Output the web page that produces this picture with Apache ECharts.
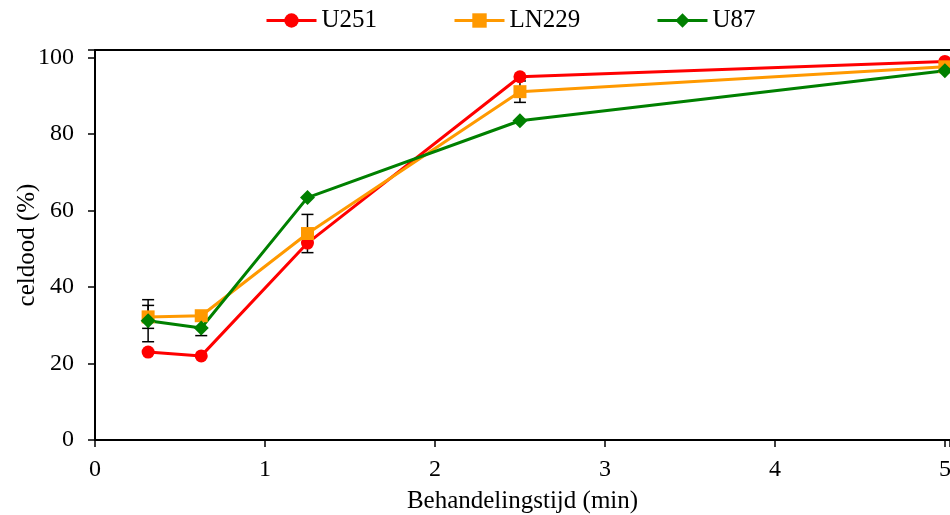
<!DOCTYPE html>
<html><head><meta charset="utf-8">
<script src="https://cdn.jsdelivr.net/npm/echarts@6/dist/echarts.min.js"></script>
<style>html,body{margin:0;padding:0;background:#fff}#c{width:950px;height:515px}</style>
</head><body><div id="c"></div>
<script>
const times = [0.3125, 0.625, 1.25, 2.5, 5];
const u251 = [23.0, 22.0, 51.5, 95.0, 99.0];
const ln229 = [32.2, 32.5, 54.0, 91.1, 97.6];
const u87 = [31.2, 29.3, 63.4, 83.5, 96.6];
const errU251 = [0, 0, 0, 0, 0];
const errLN229 = [3.0, 0, 5.0, 2.8, 0];
const errU87 = [5.5, 2.0, 0, 0, 0];
const xTicks = [0, 1, 2, 3, 4, 5];
const yTicks = [0, 20, 40, 60, 80, 100];

const FONT = 'Liberation Serif';
const colors = {U251: '#FF0000', LN229: '#FF9900', U87: '#008000'};

function pairs(ys) { return times.map((t, i) => [t, ys[i]]); }
function errData(ys, es) { return times.map((t, i) => [t, ys[i], es[i]]).filter(d => d[2] > 0); }

function errSeries(name, ys, es) {
  return {
    type: 'custom', name: name + '_err', z: 1, silent: true,
    data: errData(ys, es),
    renderItem: function (params, api) {
      const x = api.value(0), y = api.value(1), e = api.value(2);
      const top = api.coord([x, y + e]);
      const bot = api.coord([x, y - e]);
      const w = 6;
      const st = {stroke: '#000', lineWidth: 1.5};
      return {type: 'group', children: [
        {type: 'line', shape: {x1: top[0], y1: top[1], x2: bot[0], y2: bot[1]}, style: st},
        {type: 'line', shape: {x1: top[0] - w, y1: top[1], x2: top[0] + w, y2: top[1]}, style: st},
        {type: 'line', shape: {x1: bot[0] - w, y1: bot[1], x2: bot[0] + w, y2: bot[1]}, style: st}
      ]};
    }
  };
}

function lineSeries(name, ys, symbol, size) {
  return {
    type: 'line', name: name, data: pairs(ys), z: 3,
    symbol: symbol, symbolSize: size,
    lineStyle: {color: colors[name], width: 3},
    itemStyle: {color: colors[name]},
    emphasis: {disabled: true}
  };
}

function legend(name, left) {
  return {
    data: [name], left: left, top: 8, padding: 0, itemWidth: 50, itemHeight: 18, itemGap: 0,
    lineStyle: {width: 3},
    textStyle: {fontFamily: FONT, fontSize: 25, color: '#000', padding: [0, 0, 0, 0]},
    selectedMode: false
  };
}

const chart = echarts.init(document.getElementById('c'), null, {renderer: 'canvas'});
chart.setOption({
  animation: false,
  backgroundColor: '#fff',
  legend: [legend('U251', 265), legend('LN229', 453), legend('U87', 656)],
  grid: {left: 95, right: 0, top: 50, bottom: 75, containLabel: false, outerBoundsMode: 'none'},
  xAxis: [{
    type: 'value', min: 0, max: 5.03, interval: 1,
    name: 'Behandelingstijd (min)', nameLocation: 'middle', nameGap: 49, nameMoveOverlap: false,
    nameTextStyle: {fontFamily: FONT, fontSize: 25, color: '#000'},
    axisLine: {show: true, lineStyle: {color: '#000', width: 2}},
    axisTick: {show: true, inside: false, length: 7, lineStyle: {color: '#000', width: 1.5}},
    axisLabel: {fontFamily: FONT, fontSize: 24, color: '#000', margin: 18,
      formatter: v => xTicks.includes(v) ? String(v) : ''},
    splitLine: {show: false}
  }, {
    type: 'value', position: 'top', min: 0, max: 5.03,
    axisLine: {show: true, lineStyle: {color: '#000', width: 2}},
    axisTick: {show: false}, axisLabel: {show: false}, splitLine: {show: false}
  }],
  yAxis: {
    type: 'value', min: 0, max: 102, interval: 20,
    name: 'celdood (%)', nameLocation: 'middle', nameGap: 55, nameMoveOverlap: false,
    nameTextStyle: {fontFamily: FONT, fontSize: 25, color: '#000'},
    axisLine: {show: true, lineStyle: {color: '#000', width: 2}},
    axisTick: {show: true, length: 7, lineStyle: {color: '#000', width: 1.5}},
    axisLabel: {fontFamily: FONT, fontSize: 24, color: '#000', margin: 21,
      formatter: v => yTicks.includes(v) ? String(v) : ''},
    splitLine: {show: false}
  },
  series: [
    errSeries('U251', u251, errU251),
    errSeries('LN229', ln229, errLN229),
    errSeries('U87', u87, errU87),
    lineSeries('U251', u251, 'circle', 13),
    lineSeries('LN229', ln229, 'rect', 13),
    lineSeries('U87', u87, 'diamond', 15)
  ]
});
</script></body></html>
